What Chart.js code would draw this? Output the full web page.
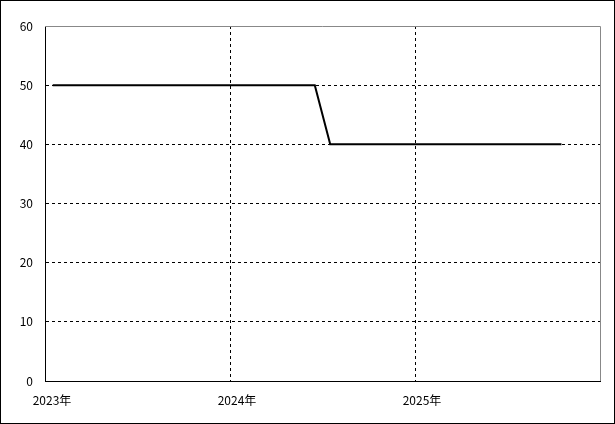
<!DOCTYPE html>
<html>
<head>
<meta charset="utf-8">
<script src="https://cdn.jsdelivr.net/npm/chart.js@4.4.0/dist/chart.umd.min.js"></script>
<style>
  html, body { margin: 0; padding: 0; background: #fff; }
  #wrap { width: 615px; height: 424px; box-sizing: border-box; border: 1px solid #000; }
  #chart { display: block; }
</style>
</head>
<body>
<div id="wrap"><canvas id="chart" width="613" height="422"></canvas></div>
<script>
const months = [
  "2023-01", "2023-02", "2023-03", "2023-04", "2023-05", "2023-06",
  "2023-07", "2023-08", "2023-09", "2023-10", "2023-11", "2023-12",
  "2024-01", "2024-02", "2024-03", "2024-04", "2024-05", "2024-06",
  "2024-07", "2024-08", "2024-09", "2024-10", "2024-11", "2024-12",
  "2025-01", "2025-02", "2025-03", "2025-04", "2025-05", "2025-06",
  "2025-07", "2025-08", "2025-09", "2025-10",
];
const values = [
  50, 50, 50, 50, 50, 50, 50, 50, 50, 50, 50, 50,
  50, 50, 50, 50, 50, 50,
  40, 40, 40, 40, 40, 40, 40, 40, 40, 40, 40, 40,
  40, 40, 40, 40,
];
const yearLabels = ["2023年", "2024年", "2025年"];
const firstYear = 2023;

// month string -> months since Jan 2023, plotted mid-month
const toX = (m) => {
  const [y, mo] = m.split("-").map(Number);
  return (y - firstYear) * 12 + (mo - 1) + 0.5;
};

const points = months.map((m, i) => ({ x: toX(m), y: values[i] }));
const font = { family: "'Noto Sans CJK JP', 'DejaVu Sans', sans-serif", size: 12 };

const frameLines = {
  id: "frameLines",
  beforeDatasetsDraw(chart) {
    const { ctx, chartArea: a } = chart;
    ctx.save();
    ctx.strokeStyle = "#888";
    ctx.lineWidth = 1;
    ctx.beginPath();
    ctx.moveTo(a.left, a.top + 0.5);
    ctx.lineTo(a.right + 0.5, a.top + 0.5);
    ctx.lineTo(a.right + 0.5, a.bottom);
    ctx.stroke();
    ctx.restore();
  },
};

new Chart(document.getElementById("chart"), {
  type: "line",
  data: {
    datasets: [
      {
        data: points,
        borderColor: "#000",
        borderWidth: 2,
        pointRadius: 0,
        tension: 0,
        fill: false,
      },
    ],
  },
  options: {
    responsive: false,
    animation: false,
    layout: { padding: { top: 25, right: 14, left: 0, bottom: 0 } },
    plugins: { legend: { display: false }, tooltip: { enabled: false } },
    scales: {
      x: {
        type: "linear",
        min: 0,
        max: 36,
        afterFit: (s) => { s.height = 42; },
        ticks: {
          stepSize: 12,
          color: "#000",
          font,
          padding: 12,
          labelOffset: 7,
          callback: (v) => yearLabels[v / 12] || "",
        },
        grid: {
          drawTicks: false,
          lineWidth: 1,
          color: (c) => (c.tick && (c.tick.value === 0 || c.tick.value === 36) ? "transparent" : "#000"),
        },
        border: { color: "#000", width: 1, dash: [3, 3] },
      },
      y: {
        min: 0,
        max: 60,
        afterFit: (s) => { s.width = 44; },
        ticks: { stepSize: 10, color: "#000", font, padding: 12 },
        grid: {
          drawTicks: false,
          lineWidth: 1,
          color: (c) => (c.tick && (c.tick.value === 0 || c.tick.value === 60) ? "transparent" : "#000"),
        },
        border: { color: "#000", width: 1, dash: [3, 3] },
      },
    },
  },
  plugins: [frameLines],
});
</script>
</body>
</html>
